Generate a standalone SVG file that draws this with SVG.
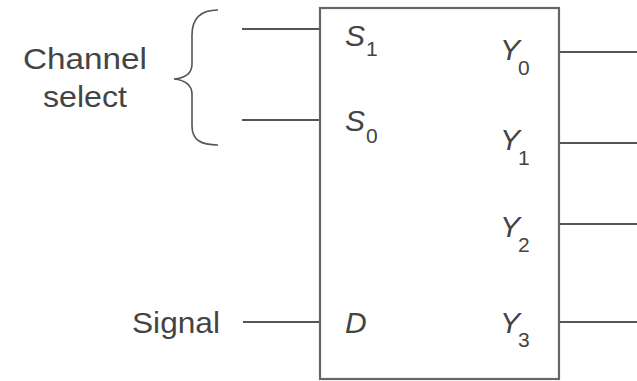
<svg xmlns="http://www.w3.org/2000/svg" width="637" height="381" viewBox="0 0 637 381">
<style>
.w{stroke:#555;stroke-width:2.2;fill:none}
.box{stroke:#666;stroke-width:2.2;fill:#fff}
.lbl{font-family:"Liberation Sans",Arial,sans-serif;font-size:30px;fill:#444}
.pin{font-family:"Liberation Sans",Arial,sans-serif;font-style:italic;font-size:30px;fill:#444}
.sub{font-size:21px;font-style:normal}
</style>
<rect width="637" height="381" fill="#fff"/>
<g id="connectors">
<line class="w" x1="242" y1="29" x2="320" y2="29"/>
<line class="w" x1="242" y1="120" x2="320" y2="120"/>
<line class="w" x1="243" y1="322" x2="320" y2="322"/>
<line class="w" x1="559" y1="52" x2="637" y2="52"/>
<line class="w" x1="559" y1="143" x2="637" y2="143"/>
<line class="w" x1="559" y1="224" x2="637" y2="224"/>
<line class="w" x1="559" y1="322" x2="637" y2="322"/>
</g>
<g id="channel-select">
<path d="M218,10 C201,10 192,18 192,35 L192,64 C192,73 186,78 174,79 C186,80 192,86 192,94 L192,126 C192,140 201,145 218,145" stroke="#555" stroke-width="1.6" fill="none"/>
<text class="lbl" x="85" y="69" text-anchor="middle" textLength="124" lengthAdjust="spacingAndGlyphs">Channel</text>
<text class="lbl" x="85" y="107" text-anchor="middle" textLength="84" lengthAdjust="spacingAndGlyphs">select</text>
</g>
<g id="signal">
<text class="lbl" x="132" y="333" textLength="88" lengthAdjust="spacingAndGlyphs">Signal</text>
</g>
<g id="demux">
<rect class="box" x="320" y="8" width="239" height="371"/>
<text class="pin" x="345" y="46">S<tspan class="sub" dy="10" dx="1">1</tspan></text>
<text class="pin" x="345" y="131">S<tspan class="sub" dy="12" dx="1">0</tspan></text>
<text class="pin" x="345" y="333">D</text>
<text class="pin" x="500" y="60">Y<tspan class="sub" dy="15" dx="-2">0</tspan></text>
<text class="pin" x="500" y="150">Y<tspan class="sub" dy="15" dx="-2">1</tspan></text>
<text class="pin" x="500" y="237">Y<tspan class="sub" dy="15" dx="-2">2</tspan></text>
<text class="pin" x="500" y="333">Y<tspan class="sub" dy="14" dx="-2">3</tspan></text>
</g>
</svg>
